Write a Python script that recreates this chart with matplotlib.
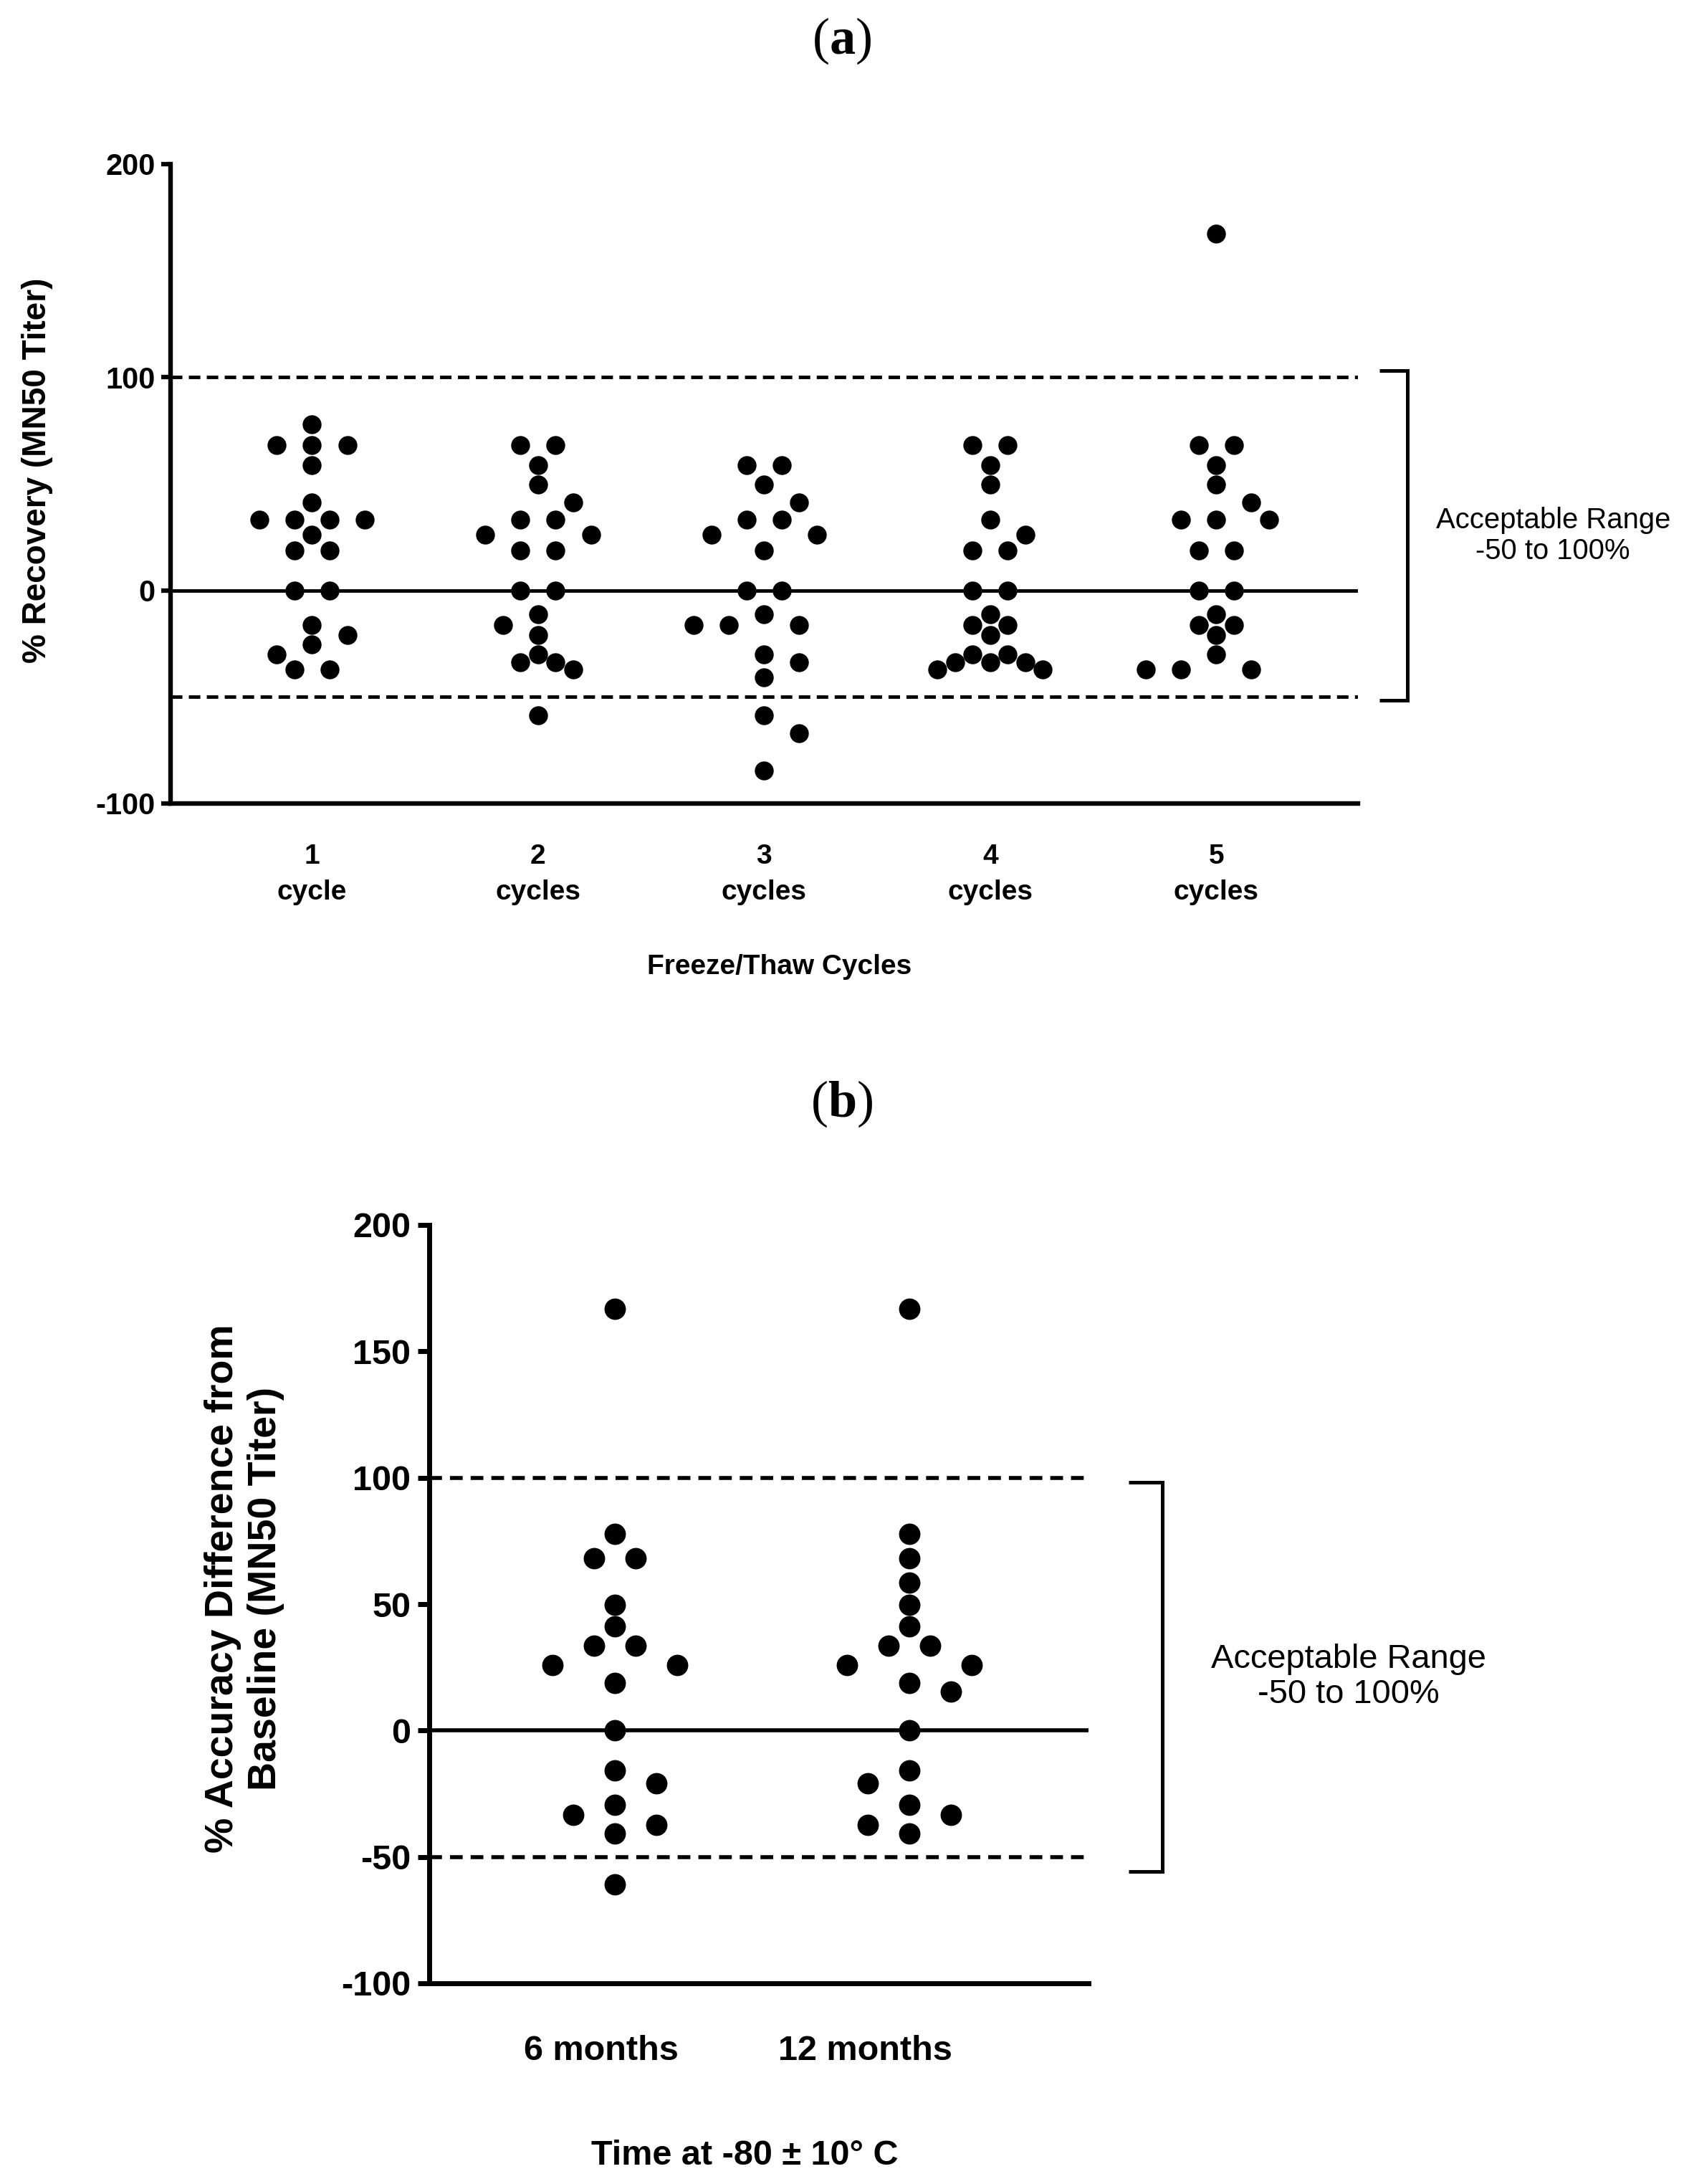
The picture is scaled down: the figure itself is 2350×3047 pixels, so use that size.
import numpy as np
import matplotlib
matplotlib.use('Agg')
import matplotlib.pyplot as plt
import matplotlib.transforms as mtransforms

plt.rcParams['font.family'] = ['Liberation Sans', 'DejaVu Sans']
plt.rcParams['axes.unicode_minus'] = False
plt.rcParams['mathtext.fontset'] = 'custom'
plt.rcParams['mathtext.rm'] = 'Liberation Serif'
plt.rcParams['mathtext.bf'] = 'Liberation Serif:bold'

# ---- data ----
cycle_labels = ['1\ncycle', '2\ncycles', '3\ncycles', '4\ncycles', '5\ncycles']
cycle1 = [77.9, 68.1, 68.1, 68.1, 58.7, 41.1, 33.1, 33.1, 33.1, 33.1, 26.0,
          18.6, 18.6, 0, 0, -16.2, -20.9, -25.4, -29.9, -37.2, -37.2]
cycle2 = [68.1, 68.1, 58.7, 49.7, 41.1, 33.1, 33.1, 26.0, 26.0, 18.6, 18.6,
          0, 0, -11.2, -16.2, -20.9, -29.9, -33.7, -33.7, -37.2, -58.5]
cycle3 = [58.7, 58.7, 49.7, 41.1, 33.1, 33.1, 26.0, 26.0, 18.6, 0, 0,
          -11.2, -16.2, -16.2, -16.2, -29.9, -33.7, -40.9, -58.5, -66.9, -84.5]
cycle4 = [68.1, 68.1, 58.7, 49.7, 33.1, 26.0, 18.6, 18.6, 0, 0, -11.2,
          -16.2, -16.2, -20.9, -29.9, -29.9, -33.7, -33.7, -33.7, -37.2, -37.2]
cycle5 = [167.3, 68.1, 68.1, 58.7, 49.7, 41.1, 33.1, 33.1, 33.1, 18.6, 18.6,
          0, 0, -11.2, -16.2, -16.2, -20.9, -29.9, -37.2, -37.2, -37.2]
cycle_data = [cycle1, cycle2, cycle3, cycle4, cycle5]

month_labels = ['6 months', '12 months']
months6 = [166.9, 77.9, 68.1, 68.1, 49.8, 41.2, 33.5, 33.5, 25.9, 25.9, 18.9,
           0, -15.9, -20.9, -29.5, -33.5, -37.3, -40.8, -60.8]
months12 = [166.9, 77.9, 68.1, 58.4, 49.8, 41.2, 33.5, 33.5, 25.9, 25.9, 18.9,
            15.5, 0, -15.9, -20.9, -29.5, -33.5, -37.3, -40.8]
month_data = [months6, months12]

RANGE_LOW = -50
RANGE_HIGH = 100
range_text = 'Acceptable Range\n-50 to 100%'

DPI = 100
W, H = 2350, 3047
fig = plt.figure(figsize=(W / DPI, H / DPI), dpi=DPI)


def swarm_x(ax, xc, vals, diam_px, slot_px, gap=1.0):
    # prism-like column scatter: rows of equal values spread on a slot grid,
    # keeping the left and right halves balanced
    vals = np.asarray(vals, dtype=float)
    ypix = ax.transData.transform(np.column_stack([np.full(len(vals), xc), vals]))[:, 1]
    xc_pix = ax.transData.transform((xc, 0))[0]
    slots = np.zeros(len(vals))
    placed = []
    order = np.argsort(-vals, kind='stable')
    i = 0
    while i < len(order):
        j = i
        while j < len(order) and vals[order[j]] == vals[order[i]]:
            j += 1
        row = order[i:j]
        par = (len(row) - 1) % 2
        for idx in row:
            bias = sum(s for s, _ in placed)
            side = (lambda k: k) if bias > 0 else (lambda k: -k)
            first = sorted([k for k in range(-3, 4) if abs(k) % 2 == par],
                           key=lambda k: (abs(k), side(k)))
            rest = sorted(range(-15, 16), key=lambda k: (abs(k), side(k)))
            for k in first + rest:
                ok = True
                for s, yp in placed:
                    if np.hypot((k - s) * slot_px, ypix[idx] - yp) < gap * diam_px:
                        ok = False
                        break
                if ok:
                    break
            placed.append((k, ypix[idx]))
            slots[idx] = k
        i = j
    xs = xc_pix + slots * slot_px
    return ax.transData.inverted().transform(np.column_stack([xs, ypix]))[:, 0]


def style_axes(ax, spine_lw):
    for s in ['top', 'right']:
        ax.spines[s].set_visible(False)
    for s in ['left', 'bottom']:
        ax.spines[s].set_linewidth(spine_lw)
        ax.spines[s].set_capstyle('projecting')


def ref_lines(ax, lw, dash):
    ax.axhline(0, color='black', lw=lw, zorder=1)
    for v in (RANGE_LOW, RANGE_HIGH):
        ax.axhline(v, color='black', lw=lw, linestyle=(0, dash), zorder=1)


def bracket(ax, x_tick, x_bar, y_top, y_bot, lw):
    ax.plot([x_tick, x_bar, x_bar, x_tick], [y_top, y_top, y_bot, y_bot],
            color='black', lw=lw, clip_on=False, solid_joinstyle='miter',
            solid_capstyle='butt')


# ================= panel (a) =================
ax1 = fig.add_axes([238 / W, 1 - 1121 / H, 1657 / W, 892 / H])
ax1.set_xlim(0.374, 5.627)
ax1.set_ylim(-100, 200)
style_axes(ax1, 4.6)
ref_lines(ax1, 3.5, (3.3, 1.85))

ms_a = 19
d_a = ms_a * DPI / 72
for i, vals in enumerate(cycle_data):
    xs = swarm_x(ax1, i + 1, vals, d_a, 0.93 * d_a)
    ax1.scatter(xs, vals, s=ms_a ** 2, color='black', linewidths=0, zorder=3,
                clip_on=False)

ax1.set_yticks([-100, 0, 100, 200])
ax1.set_yticklabels(['-100', '0', '100', '200'], fontsize=30, fontweight='bold')
ax1.tick_params(axis='y', direction='out', length=9.5, width=4.5, pad=6)
ax1.set_xticks(range(1, 6))
ax1.set_xticklabels(cycle_labels, fontsize=28, fontweight='bold', linespacing=1.5)
ax1.tick_params(axis='x', length=0, pad=40)

ax1.set_xlabel('Freeze/Thaw Cycles', fontsize=28, fontweight='bold')
ax1.xaxis.label.set_va('baseline')
ax1.xaxis.set_label_coords(0.513, -0.2668)
ax1.set_ylabel('% Recovery (MN50 Titer)', fontsize=33, fontweight='bold')
ax1.yaxis.label.set_va('center')
ax1.yaxis.set_label_coords(-0.1123, 0.521)

bracket(ax1, 5.722, 5.846, RANGE_HIGH + 3, RANGE_LOW - 1.6, 3.6)
ax1.text(6.49, 25.7, range_text, fontsize=28.8, ha='center', va='center',
         multialignment='center', linespacing=1.15)

fig.text(0.5, 1 - 57 / H, r'($\mathbf{a}$)', fontsize=52, ha='center',
         va='center', family='Liberation Serif')

# ================= panel (b) =================
ax2 = fig.add_axes([599 / W, 1 - 2767 / H, 920 / W, 1058 / H])
ax2.set_xlim(0.370, 2.608)
ax2.set_ylim(-100, 200)
style_axes(ax2, 5.0)
ref_lines(ax2, 4.0, (3.2, 2.0))

ms_b = 21.5
d_b = ms_b * DPI / 72
for i, vals in enumerate(month_data):
    xs = swarm_x(ax2, i + 1, vals, d_b, 0.97 * d_b)
    ax2.scatter(xs, vals, s=ms_b ** 2, color='black', linewidths=0, zorder=3,
                clip_on=False)

ax2.set_yticks([-100, -50, 0, 50, 100, 150, 200])
ax2.set_yticklabels(['-100', '-50', '0', '50', '100', '150', '200'],
                    fontsize=35, fontweight='bold')
ax2.tick_params(axis='y', direction='out', length=11.5, width=5.0, pad=7)
ax2.set_xticks([1, 2])
ax2.set_xticklabels(month_labels, fontsize=35, fontweight='bold')
ax2.tick_params(axis='x', length=0, pad=52)
for lab, dx in zip(ax2.get_xticklabels(), [-19, -62]):
    lab.set_transform(lab.get_transform() +
                      mtransforms.ScaledTranslation(dx / DPI, 0, fig.dpi_scale_trans))

ax2.set_xlabel('Time at -80 \u00b1 10\u00b0 C', fontsize=35, fontweight='bold')
ax2.xaxis.label.set_va('baseline')
ax2.xaxis.set_label_coords(0.479, -0.2391)
ax2.set_ylabel('% Accuracy Difference from\nBaseline (MN50 Titer)', fontsize=40,
               fontweight='bold', linespacing=1.2)
ax2.yaxis.label.set_va('center')
ax2.yaxis.label.set_multialignment('center')
ax2.yaxis.set_label_coords(-0.2804, 0.5208)

bracket(ax2, 2.745, 2.859, RANGE_HIGH - 1.9, RANGE_LOW - 5.8, 3.6)
ax2.text(3.49, 21.2, range_text, fontsize=33.8, ha='center', va='center',
         multialignment='center', linespacing=1.15)

fig.text(0.5, 1 - 1540 / H, r'($\mathbf{b}$)', fontsize=52, ha='center',
         va='center', family='Liberation Serif')

fig.savefig('out.png', dpi=DPI, facecolor='white')
